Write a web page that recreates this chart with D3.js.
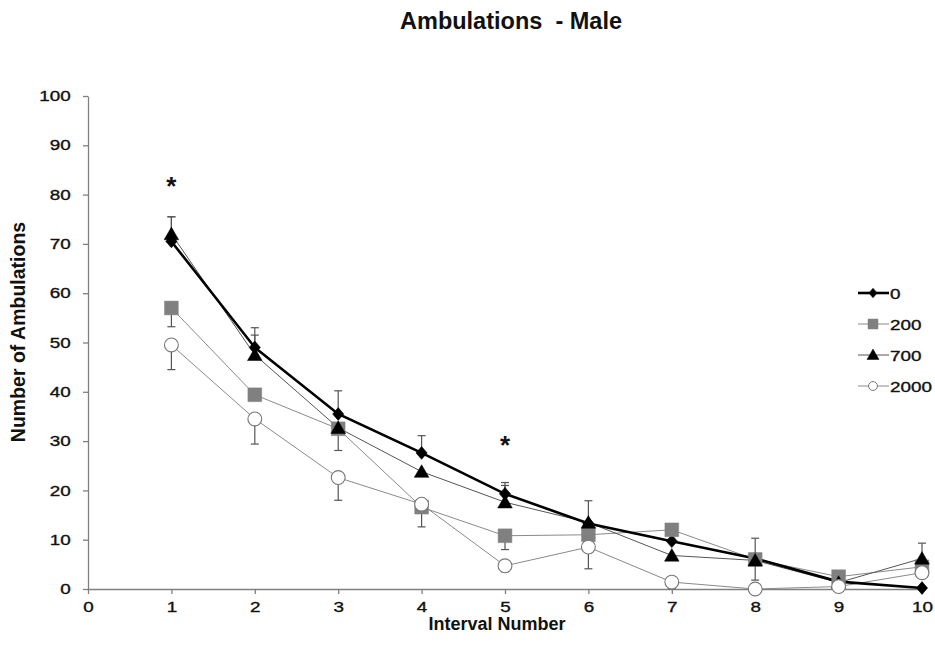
<!DOCTYPE html>
<html><head><meta charset="utf-8">
<script src="https://cdn.jsdelivr.net/npm/d3@7"></script>
<style>body{margin:0;background:#fff;} text{font-family:"Liberation Sans",Arial,sans-serif;}</style>
</head><body><svg id="c" width="935" height="664"></svg>
<script>
const intervals = [1,2,3,4,5,6,7,8,9,10];
const seriesNames = ["0","200","700","2000"];
const v0    = [70.5, 49.0, 35.5, 27.6, 19.3, 13.3, 9.7, 6.2, 1.5, 0.2];
const v200  = [57.0, 39.4, 32.5, 16.6, 10.8, 11.0, 12.0, 6.0, 2.5, 4.5];
const v700  = [72.0, 47.5, 32.7, 23.8, 17.6, 13.5, 6.8, 5.8, 1.3, 6.2];
const v2000 = [49.5, 34.5, 22.6, 17.2, 4.7, 8.5, 1.4, 0.0, 0.5, 3.3];
const up0    = [5.0, 4.0, 4.7, 3.5, 2.3, 4.6, 0, 4.1, 0, 0];
const up700  = [3.5, 4.0, 0, 0, 3.4, 0, 0, 0, 0, 3.1];
const down200  = [3.8, 0, 4.4, 4.0, 2.8, 0, 0, 4.2, 0, 0];
const down2000 = [5.0, 5.1, 4.6, 0, 1.2, 4.4, 1.3, 0, 0, 0];
const xTicks = [0,1,2,3,4,5,6,7,8,9,10];
const yTicks = [0,10,20,30,40,50,60,70,80,90,100];
const stars = [{x:1, y:82.5},{x:5, y:30}];

const series = [
  {name:"0", vals:v0, up:up0, down:null, shape:"diamond", line:"#000", lw:2.6, fill:"#000", stroke:"#000"},
  {name:"200", vals:v200, up:null, down:down200, shape:"square", line:"#8a8a8a", lw:1, fill:"#808080", stroke:"#808080"},
  {name:"700", vals:v700, up:up700, down:null, shape:"triangle", line:"#555", lw:1, fill:"#000", stroke:"#000"},
  {name:"2000", vals:v2000, up:null, down:down2000, shape:"circle", line:"#8a8a8a", lw:1, fill:"#fff", stroke:"#777"}
];

const SX = 1.3; // horizontal stretch of small labels in the reference
const svg = d3.select("#c");
const L=88, R=922, T=96, B=589;
const x = d3.scaleLinear().domain([0,10]).range([L,R]);
const y = d3.scaleLinear().domain([0,100]).range([B,T]);

svg.append("text").attr("x",511).attr("y",29).attr("text-anchor","middle")
  .style("white-space","pre")
  .attr("font-size",23.5).attr("font-weight","bold").attr("fill","#111").text("Ambulations  - Male");

const ya = svg.append("g").attr("transform",`translate(${L},0)`)
  .call(d3.axisLeft(y).tickValues(yTicks).tickSize(5).tickSizeOuter(0).tickPadding(8.3));
const xa = svg.append("g").attr("transform",`translate(0,${B})`)
  .call(d3.axisBottom(x).tickValues(xTicks).tickSize(5).tickSizeOuter(0).tickPadding(8));
[ya,xa].forEach(g=>{
  g.selectAll("path,line").attr("stroke","#808080").attr("stroke-width",1.3);
  g.selectAll("text").attr("font-size",14.5).attr("fill","#111")
    .attr("stroke","#111").attr("stroke-width",0.35)
    .attr("font-family","Liberation Sans, Arial, sans-serif")
    .attr("transform",`scale(${SX},1)`);
});

svg.append("text").attr("x",497).attr("y",630).attr("text-anchor","middle")
  .attr("font-size",18).attr("font-weight","bold").attr("fill","#111").text("Interval Number");
svg.append("text").attr("transform","translate(25,332) rotate(-90)").attr("text-anchor","middle")
  .attr("font-size",19.5).attr("font-weight","bold").attr("fill","#111").text("Number of Ambulations");

const symType = {diamond:d3.symbolSquare, square:d3.symbolSquare, triangle:d3.symbolTriangle, circle:d3.symbolCircle};
const symSize = {diamond:62, square:190, triangle:92, circle:150};
const legSize = {diamond:34, square:100, triangle:62, circle:62};
const symTf = {diamond:" rotate(45) scale(1,1)", square:"", triangle:"", circle:""};

const line = d3.line().x((d,i)=>x(intervals[i])).y(d=>y(d));

// error bars
series.forEach(s=>{
  const g = svg.append("g").attr("stroke","#555").attr("stroke-width",1.2);
  s.vals.forEach((v,i)=>{
    const e = s.up ? s.up[i] : -s.down[i];
    if(!e) return;
    const cx = x(intervals[i]);
    g.append("line").attr("x1",cx).attr("x2",cx).attr("y1",y(v)).attr("y2",y(v+e));
    g.append("line").attr("x1",cx-4).attr("x2",cx+4).attr("y1",y(v+e)).attr("y2",y(v+e));
  });
});

// lines
[1,3,2,0].forEach(k=>{
  const s = series[k];
  svg.append("path").datum(s.vals).attr("d",line).attr("fill","none")
    .attr("stroke",s.line).attr("stroke-width",s.lw);
});
// markers
series.forEach(s=>{
  svg.append("g").selectAll("path").data(s.vals).join("path")
    .attr("d",d3.symbol().type(symType[s.shape]).size(symSize[s.shape]))
    .attr("transform",(d,i)=>`translate(${x(intervals[i])},${y(d)+(s.shape==="triangle"?1.5:0)})${s.shape==="diamond"?" scale(1,1.15)":""}${symTf[s.shape]}`)
    .attr("fill",s.fill).attr("stroke",s.stroke).attr("stroke-width",s.shape==="circle"?1.1:0.5);
});

// asterisks
svg.selectAll("text.star").data(stars).join("text").attr("class","star")
  .attr("x",d=>x(d.x)).attr("y",d=>y(d.y)+13).attr("text-anchor","middle")
  .attr("font-size",26).attr("font-weight","bold").attr("fill","#111").text("*");

// legend
const lg = svg.append("g");
series.forEach((s,i)=>{
  const ly = 293 + i*31;
  lg.append("line").attr("x1",858).attr("x2",889).attr("y1",ly).attr("y2",ly)
    .attr("stroke",s.line).attr("stroke-width",s.lw);
  lg.append("path").attr("d",d3.symbol().type(symType[s.shape]).size(legSize[s.shape]))
    .attr("transform",`translate(873,${ly + (s.shape==="triangle"?1:0)})${s.shape==="diamond"?" scale(1,1.15)":""}${symTf[s.shape]}`)
    .attr("fill",s.fill).attr("stroke",s.stroke).attr("stroke-width",s.shape==="circle"?1:0.5);
  lg.append("text").attr("transform",`translate(890,${ly+5.5}) scale(${SX},1)`)
    .attr("font-size",14.5).attr("fill","#111").attr("stroke","#111").attr("stroke-width",0.35).text(s.name);
});
</script></body></html>
